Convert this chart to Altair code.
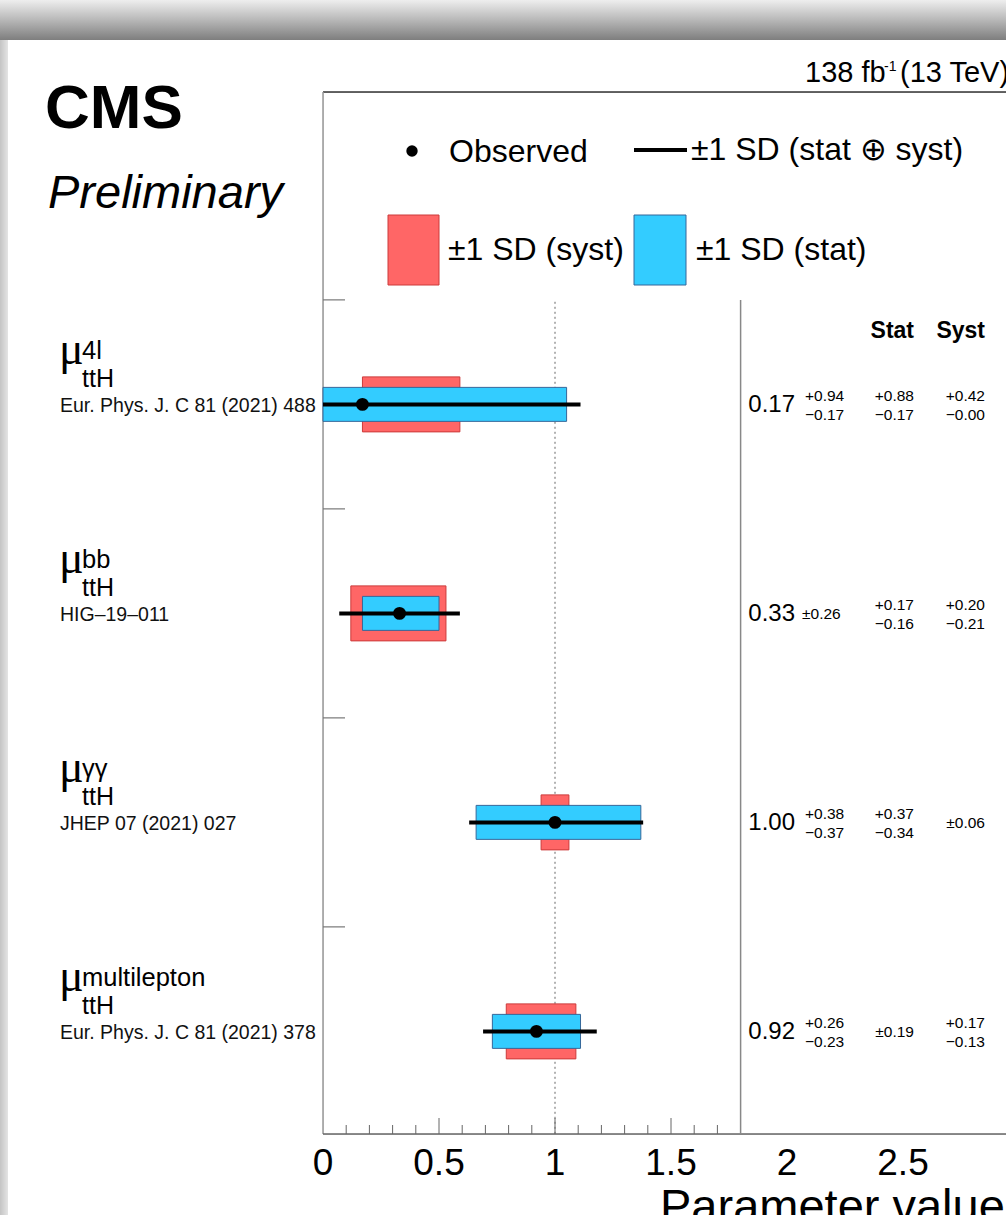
import altair as alt
import pandas as pd

# ---------------- data ----------------
channels = ["4l", "bb", "γγ", "multilepton"]
references = ["Eur. Phys. J. C 81 (2021) 488", "HIG–19–011",
              "JHEP 07 (2021) 027", "Eur. Phys. J. C 81 (2021) 378"]
best = [0.17, 0.33, 1.00, 0.92]
tot_up = [0.94, 0.26, 0.38, 0.26]
tot_dn = [0.17, 0.26, 0.37, 0.23]
stat_up = [0.88, 0.17, 0.37, 0.19]
stat_dn = [0.17, 0.16, 0.34, 0.19]
syst_up = [0.42, 0.20, 0.06, 0.17]
syst_dn = [0.00, 0.21, 0.06, 0.13]
x_labels = [0, 0.5, 1, 1.5, 2, 2.5]
x_label_text = ["0", "0.5", "1", "1.5", "2", "2.5"]
x_major_ticks = [0.5, 1.0, 1.5]
x_minor_ticks = [0.1, 0.2, 0.3, 0.4, 0.6, 0.7, 0.8, 0.9, 1.1, 1.2, 1.3, 1.4, 1.6, 1.7]
ref_line = [1.0]
sep_line = [1.8]


def split(up, dn):
    if abs(up - dn) < 1e-9:
        return "±%.2f" % up, "", ""
    return "", "+%.2f" % up, "−%.2f" % dn


rows = []
for i in range(len(channels)):
    ts, tu, td = split(tot_up[i], tot_dn[i])
    ss, su, sd = split(stat_up[i], stat_dn[i])
    ys_, yu, yd = split(syst_up[i], syst_dn[i])
    rows.append(dict(order=i, channel=channels[i], ref=references[i], best=best[i],
                     tot_up=tot_up[i], tot_dn=tot_dn[i], stat_up=stat_up[i], stat_dn=stat_dn[i],
                     syst_up=syst_up[i], syst_dn=syst_dn[i], main="%.2f" % best[i],
                     tot_s=ts, tot_u=tu, tot_d=td, stat_s=ss, stat_u=su, stat_d=sd,
                     syst_s=ys_, syst_u=yu, syst_d=yd))
df = pd.DataFrame(rows)
one = pd.DataFrame({"k": [0]})

# ---------------- layout ----------------
W, H = 683, 1042
PXX, PXY = 232.0, 209.0
Y0 = 0.009
xs = alt.Scale(domain=[0, W / PXX], nice=False, zero=False)
ys = alt.Scale(domain=[Y0, H / PXY + Y0], nice=False, zero=False)
RED, RED_E = "#ff6666", "#cc3b3b"
BLUE, BLUE_E = "#33ccff", "#35679a"
GREY = "#777777"
FONT = "Liberation Sans"

base = alt.Chart(df).transform_calculate(
    yrow="3.5 - datum.order",
    yedge="4 - datum.order",
    tlo="datum.best - datum.tot_dn", thi="datum.best + datum.tot_up",
    slo="datum.best - datum.stat_dn", shi="datum.best + datum.stat_up",
    ylo="datum.best - datum.syst_dn", yhi="datum.best + datum.syst_up",
    rb0="datum.yrow - 0.1316", rb1="datum.yrow + 0.1316",
    bb0="datum.yrow - 0.0813", bb1="datum.yrow + 0.0813",
)
Yrow = alt.Y("yrow:Q", scale=ys, axis=None)

layers = []

# page shadow (screenshot frame)
top_grad = alt.Gradient(gradient="linear", x1=0, x2=0, y1=0, y2=1,
                        stops=[alt.GradientStop(color="#eeeeee", offset=0),
                               alt.GradientStop(color="#bdbdbd", offset=0.45),
                               alt.GradientStop(color="#7e7e7e", offset=1)])
layers.append(alt.Chart(one).mark_rect(color=top_grad).encode(
    x=alt.value(-323), x2=alt.value(W), y=alt.value(-92), y2=alt.value(-52)))
left_grad = alt.Gradient(gradient="linear", x1=0, x2=1, y1=0, y2=0,
                         stops=[alt.GradientStop(color="#c4c4c4", offset=0),
                                alt.GradientStop(color="#e4e4e4", offset=1)])
layers.append(alt.Chart(one).mark_rect(color=left_grad).encode(
    x=alt.value(-323), x2=alt.value(-315), y=alt.value(-52), y2=alt.value(H + 81)))

# frame lines
layers.append(alt.Chart(one).mark_rule(color="#333333", strokeWidth=1.5).encode(
    x=alt.value(0), x2=alt.value(W), y=alt.value(0)))
layers.append(alt.Chart(one).mark_rule(color="#999999", strokeWidth=1.5).encode(
    x=alt.value(0), y=alt.value(0), y2=alt.value(H)))
layers.append(alt.Chart(one).mark_rule(color="#666666", strokeWidth=1.5).encode(
    x=alt.value(0), x2=alt.value(W), y=alt.value(H)))

# y ticks at row boundaries
layers.append(base.mark_rule(color=GREY, strokeWidth=1.2).encode(
    y=alt.Y("yedge:Q", scale=ys, axis=None), x=alt.value(0), x2=alt.value(22)))

# reference (dotted) and separator line
layers.append(alt.Chart(pd.DataFrame({"v": ref_line})).mark_rule(
    color="#666666", strokeWidth=1, strokeDash=[2, 3]).encode(
    x=alt.X("v:Q", scale=xs, axis=None),
    y=alt.Y("a:Q", scale=ys, axis=None), y2="b:Q").transform_calculate(a="0.01", b="4"))
layers.append(alt.Chart(pd.DataFrame({"v": sep_line})).mark_rule(
    color="#888888", strokeWidth=1.5).encode(
    x=alt.X("v:Q", scale=xs, axis=None),
    y=alt.Y("a:Q", scale=ys, axis=None), y2="b:Q").transform_calculate(a="0.01", b="4"))

# x ticks and labels
layers.append(alt.Chart(pd.DataFrame({"v": x_minor_ticks})).mark_rule(
    color="#666666", strokeWidth=1).encode(
    x=alt.X("v:Q", scale=xs, axis=None), y=alt.value(H - 9), y2=alt.value(H)))
layers.append(alt.Chart(pd.DataFrame({"v": x_major_ticks})).mark_rule(
    color="#666666", strokeWidth=1).encode(
    x=alt.X("v:Q", scale=xs, axis=None), y=alt.value(H - 16), y2=alt.value(H)))
layers.append(alt.Chart(pd.DataFrame({"v": x_labels, "t": x_label_text})).mark_text(
    align="center", baseline="middle", fontSize=37, color="black").encode(
    x=alt.X("v:Q", scale=xs, axis=None), y=alt.value(H + 30), text="t:N"))

# syst boxes
layers.append(base.mark_rect(fill=RED, stroke=RED_E, strokeWidth=1).encode(
    x=alt.X("ylo:Q", scale=xs, axis=None), x2="yhi:Q",
    y=alt.Y("rb0:Q", scale=ys, axis=None), y2="rb1:Q"))
# stat boxes
layers.append(base.mark_rect(fill=BLUE, stroke=BLUE_E, strokeWidth=1).encode(
    x=alt.X("slo:Q", scale=xs, axis=None), x2="shi:Q",
    y=alt.Y("bb0:Q", scale=ys, axis=None), y2="bb1:Q"))
# total
layers.append(base.mark_rule(color="black", strokeWidth=4).encode(
    x=alt.X("tlo:Q", scale=xs, axis=None), x2="thi:Q", y=Yrow))
# observed
layers.append(base.mark_circle(color="black", opacity=1, size=165).encode(
    x=alt.X("best:Q", scale=xs, axis=None), y=Yrow))


# right-side numbers
def txt(field, x, align, size, dy=0, weight="normal"):
    return base.mark_text(align=align, baseline="middle", fontSize=size, dy=dy,
                          fontWeight=weight, color="black").encode(
        x=alt.value(x), y=Yrow, text=f"{field}:N")


layers += [
    txt("main", 472, "right", 24, 1),
    txt("tot_s", 479, "left", 15.5, 1),
    txt("tot_u", 482, "left", 15.5, -8),
    txt("tot_d", 482, "left", 15.5, 11),
    txt("stat_s", 591, "right", 15.5, 1),
    txt("stat_u", 591, "right", 15.5, -8),
    txt("stat_d", 591, "right", 15.5, 11),
    txt("syst_s", 662, "right", 15.5, 1),
    txt("syst_u", 662, "right", 15.5, -8),
    txt("syst_d", 662, "right", 15.5, 11),
]
layers.append(alt.Chart(pd.DataFrame({"t": ["Stat", "Syst"], "x": [591, 662]})).mark_text(
    align="right", baseline="middle", fontSize=23, fontWeight="bold", color="black").encode(
    x=alt.X("x:Q", scale=None), y=alt.value(239), text="t:N"))

# left labels
layers.append(base.mark_text(align="left", baseline="alphabetic", font="Liberation Serif",
                             fontSize=46, dy=-40, color="black").encode(
    x=alt.value(-264), y=Yrow, text=alt.value("μ")))
layers.append(base.mark_text(align="left", baseline="alphabetic", fontSize=25.5, dy=-45,
                             color="black").encode(
    x=alt.value(-241), y=Yrow, text="channel:N"))
layers.append(base.mark_text(align="left", baseline="alphabetic", fontSize=25, dy=-17,
                             color="black").encode(
    x=alt.value(-241), y=Yrow, text=alt.value("ttH")))
layers.append(base.mark_text(align="left", baseline="middle", fontSize=19.5, dy=2,
                             color="#111111").encode(
    x=alt.value(-263), y=Yrow, text="ref:N"))

# legend
layers.append(alt.Chart(one).mark_circle(color="black", opacity=1, size=130).encode(
    x=alt.value(89), y=alt.value(59)))
layers.append(alt.Chart(one).mark_rule(color="black", strokeWidth=4).encode(
    x=alt.value(311), x2=alt.value(364), y=alt.value(58)))
layers.append(alt.Chart(one).mark_rect(fill=RED, stroke=RED_E, strokeWidth=1).encode(
    x=alt.value(65), x2=alt.value(116), y=alt.value(123), y2=alt.value(193)))
layers.append(alt.Chart(one).mark_rect(fill=BLUE, stroke=BLUE_E, strokeWidth=1).encode(
    x=alt.value(311), x2=alt.value(363), y=alt.value(123), y2=alt.value(193)))
leg = pd.DataFrame({
    "t": ["Observed", "±1 SD (stat ⊕ syst)", "±1 SD (syst)", "±1 SD (stat)"],
    "x": [126, 368, 125, 373], "y": [60, 58, 158, 158]})
layers.append(alt.Chart(leg).mark_text(align="left", baseline="middle", fontSize=32,
                                       color="black").encode(
    x=alt.X("x:Q", scale=None), y=alt.Y("y:Q", scale=None), text="t:N"))

# CMS labels
deco = pd.DataFrame({
    "t": ["CMS", "Preliminary", "138 fb", "-1", "(13 TeV)", "Parameter value"],
    "x": [-278, -275, 482, 561, 577, 337],
    "y": [36, 116, -10, -21, -10, 1130],
    "s": [62, 47, 29, 14, 29, 47],
    "w": ["bold", "normal", "normal", "normal", "normal", "normal"],
    "st": ["normal", "italic", "normal", "normal", "normal", "normal"]})
for _, r in deco.iterrows():
    layers.append(alt.Chart(one).mark_text(
        align="left", baseline="alphabetic", fontSize=float(r.s), fontWeight=r.w,
        fontStyle=r.st, color="black", text=r.t).encode(
        x=alt.value(float(r.x)), y=alt.value(float(r.y))))

chart = alt.layer(*layers).properties(
    width=W, height=H,
    padding={"left": 323, "top": 92, "right": 0, "bottom": 81},
    autosize=alt.AutoSizeParams(type="none"),
    background="white",
).configure_view(stroke=None).configure(font=FONT)

chart.save("out.html", embed_options={"renderer": "svg", "actions": False})
